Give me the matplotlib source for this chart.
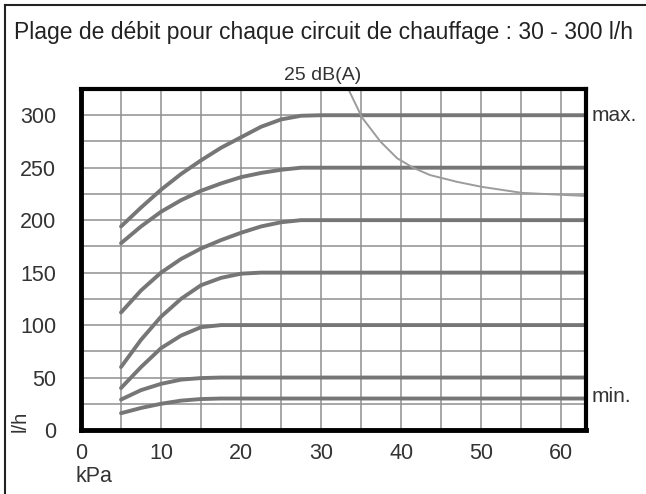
import matplotlib.pyplot as plt
import numpy as np
from matplotlib.lines import Line2D


# =====================================================
# DATA
# =====================================================

kpa = [5, 7.5, 10, 12.5, 15, 17.5, 20, 22.5, 25, 27.5, 30, 64]

flow_300 = [194, 212, 229, 244, 257, 269, 279, 289, 296, 299.5, 300, 300]
flow_250 = [178, 194, 208, 219, 228, 235, 241, 245, 248, 250, 250, 250]
flow_200 = [112, 133, 150, 163, 173, 181, 188, 194, 198, 200, 200, 200]
flow_150 = [60, 86, 108, 125, 138, 145, 149, 150, 150, 150, 150, 150]
flow_100 = [40, 60, 78, 90, 98, 100, 100, 100, 100, 100, 100, 100]
flow_50 = [29, 38, 44, 48, 49.5, 50, 50, 50, 50, 50, 50, 50]
flow_30 = [16, 21, 25, 28, 29.5, 30, 30, 30, 30, 30, 30, 30]

flows = [flow_300, flow_250, flow_200, flow_150, flow_100, flow_50, flow_30]

noise_kpa = [33.4, 35.1, 37.4, 39.5, 41.5, 43.6, 47, 50.1, 55.1, 64]
noise_flow = [325, 298, 275, 259, 250, 243, 236.5, 231.7, 226, 222.7]

x_ticks = [0, 10, 20, 30, 40, 50, 60]
y_ticks = [0, 50, 100, 150, 200, 250, 300]

title = "Plage de débit pour chaque circuit de chauffage : 30 - 300 l/h"


# =====================================================
# FIGURE
# =====================================================

plt.rcParams["font.family"] = ["Liberation Sans", "DejaVu Sans"]

text_color = "#333333"

fig = plt.figure(figsize=(6.46, 4.94), dpi=100)

ax = fig.add_axes([81/646, 64/494, 505/646, 341/494])

ax.set_xlim(0, 63.1)
ax.set_ylim(0, 325)

ax.set_xticks(x_ticks)
ax.set_xticks(np.arange(5, 63, 5), minor=True)
ax.set_yticks(y_ticks)
ax.set_yticks(np.arange(25, 325, 25), minor=True)

ax.grid(which="both", color="#909090", linewidth=1.1)
ax.set_axisbelow(True)

ax.tick_params(which="both", length=0)
ax.tick_params(axis="x", pad=9, labelsize=15.5, labelcolor=text_color)
ax.tick_params(axis="y", pad=18, labelsize=15.5, labelcolor=text_color)

for side in ["left", "bottom"]:
    ax.spines[side].set_linewidth(3.5)
for side in ["top", "right"]:
    ax.spines[side].set_linewidth(3)
for sp in ax.spines.values():
    sp.set_color("black")
    sp.set_zorder(5)


for f in flows:
    ax.plot(
        kpa,
        f,
        color="#767676",
        linewidth=2.8,
        solid_capstyle="round",
        solid_joinstyle="round",
        zorder=3
    )

ax.plot(
    noise_kpa,
    noise_flow,
    color="#9c9c9c",
    linewidth=1.4,
    solid_joinstyle="round",
    zorder=3
)


# =====================================================
# TEXTS
# =====================================================

fig.text(324/646, 1 - 33/494, title, ha="center", va="center",
         fontsize=16.5, color="#222222")

fig.text(323/646, 1 - 75/494, "25 dB(A)", ha="center", va="center",
         fontsize=14, color=text_color)

fig.text(592/646, 1 - 115/494, "max.", ha="left", va="center",
         fontsize=15, color=text_color)

fig.text(592/646, 1 - 397/494, "min.", ha="left", va="center",
         fontsize=15, color=text_color)

fig.text(20/646, 1 - 421/494, "l/h", ha="center", va="center",
         rotation=90, fontsize=14.5, color=text_color)

fig.text(94/646, 1 - 476/494, "kPa", ha="center", va="center",
         fontsize=15.5, color=text_color)


# outer frame (left + top only)
fig.add_artist(Line2D([5/646, 5/646], [0, 1 - 5/494],
                      transform=fig.transFigure, color="#222222", linewidth=1.5))
fig.add_artist(Line2D([5/646, 1], [1 - 5/494, 1 - 5/494],
                      transform=fig.transFigure, color="#222222", linewidth=1.5))


plt.savefig("out.png", dpi=100)
plt.close()
